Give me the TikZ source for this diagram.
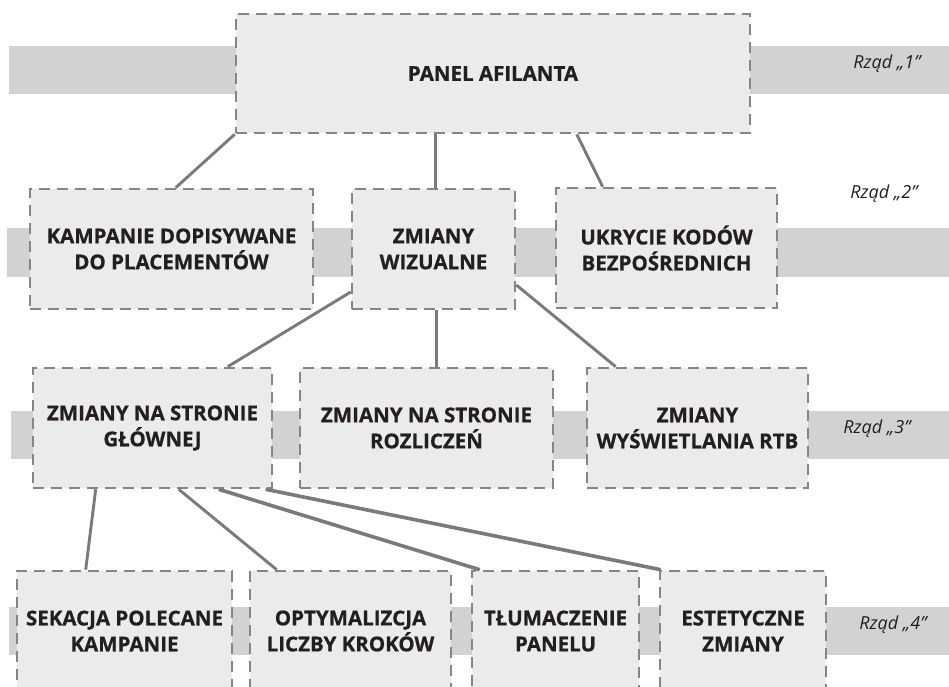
\documentclass[tikz,border=0pt]{standalone}
\usepackage{fontspec}
\setmainfont{Open Sans}
\newfontface\cardfont{Open Sans Bold}[FakeBold=0.7]
\usetikzlibrary{calc}

\definecolor{boxfill}{HTML}{EBEBEC}
\definecolor{bandfill}{HTML}{D1D2D4}
\definecolor{edgegray}{HTML}{858585}
\definecolor{linkgray}{HTML}{7A7A7A}
\definecolor{ink}{HTML}{231F20}

\tikzset{
  band/.style={fill=bandfill, draw=none},
  card/.style={draw=edgegray, line width=2.6pt, dash pattern=on 11pt off 7pt,
    fill=boxfill, text=ink, align=center, inner sep=0pt, minimum height=120pt,
    font=\fontsize{20.5}{26}\selectfont\cardfont},
  link/.style={draw=linkgray, line width=2.9pt},
  heavylink/.style={link, line width=3.6pt},
  rowtag/.style={text=ink, font=\fontsize{18}{20}\selectfont\itshape}
}

\begin{document}
\begin{tikzpicture}[x=1pt, y=-1pt]
  \useasboundingbox (0,0) rectangle (949,687);

  % horizontal row bands
  \fill[band] (9,46)   rectangle (949,94);
  \fill[band] (7,228)  rectangle (949,277);
  \fill[band] (11,411) rectangle (949,459);
  \fill[band] (9,607)  rectangle (949,655);

  % row 1
  \node[card, minimum width=514pt, minimum height=119pt] (pa) at (493,73.5) {PANEL AFILANTA};

  % row 2
  \node[card, minimum width=283pt] (kd) at (171.5,249) {KAMPANIE DOPISYWANE\\DO PLACEMENTÓW};
  \node[card, minimum width=163pt] (zw) at (433.5,249) {ZMIANY\\WIZUALNE};
  \node[card, minimum width=221pt] (uk) at (666.5,248) {UKRYCIE KODÓW\\BEZPOŚREDNICH};

  % row 3
  \node[card, minimum width=239pt] (gl) at (152.5,428) {ZMIANY NA STRONIE\\GŁÓWNEJ};
  \node[card, minimum width=253pt] (rz) at (426.5,428) {ZMIANY NA STRONIE\\ROZLICZEŃ};
  \node[card, minimum width=221pt] (rt) at (697.5,428) {ZMIANY\\WYŚWIETLANIA RTB};

  % row 4
  \node[card, minimum width=215pt] (se) at (124.5,631) {SEKACJA POLECANE\\KAMPANIE};
  \node[card, minimum width=201pt] (op) at (350.5,631) {OPTYMALIZCJA\\LICZBY KROKÓW};
  \node[card, minimum width=167pt] (tl) at (555.5,631) {TŁUMACZENIE\\PANELU};
  \node[card, minimum width=166pt] (es) at (743,631)   {ESTETYCZNE\\ZMIANY};

  % connectors
  \draw[link] (pa.south west) -- ([xshift=147pt]kd.north west);
  \draw[link] ([xshift=201pt]pa.south west) -- ([xshift=85pt]zw.north west);
  \draw[link] ([xshift=342pt]pa.south west) -- ([xshift=48pt]uk.north west);

  \draw[link] ([yshift=-43pt]zw.west) -- ([xshift=196pt]gl.north west);
  \draw[link] ([xshift=86pt]zw.south west) -- ([xshift=138pt]rz.north west);
  \draw[link] ([yshift=-36pt]zw.east) -- ([xshift=30pt]rt.north west);

  \draw[link] ([xshift=64pt]gl.south west) -- ([xshift=70pt]se.north west);
  \draw[link] ([xshift=147pt]gl.south west) -- ([xshift=28pt]op.north west);
  \draw[heavylink] ([xshift=187pt]gl.south west) -- ([xshift=9pt]tl.north west);
  \draw[heavylink] ([xshift=234pt]gl.south west) -- ([xshift=2pt]es.north west);

  % row tags
  \node[rowtag] (r1) at (887,64)  {Rząd „1”};
  \node[rowtag] (r2) at (884,194) {Rząd „2”};
  \node[rowtag] (r3) at (877,429) {Rząd „3”};
  \node[rowtag] (r4) at (893,625) {Rząd „4”};
\end{tikzpicture}
\end{document}
